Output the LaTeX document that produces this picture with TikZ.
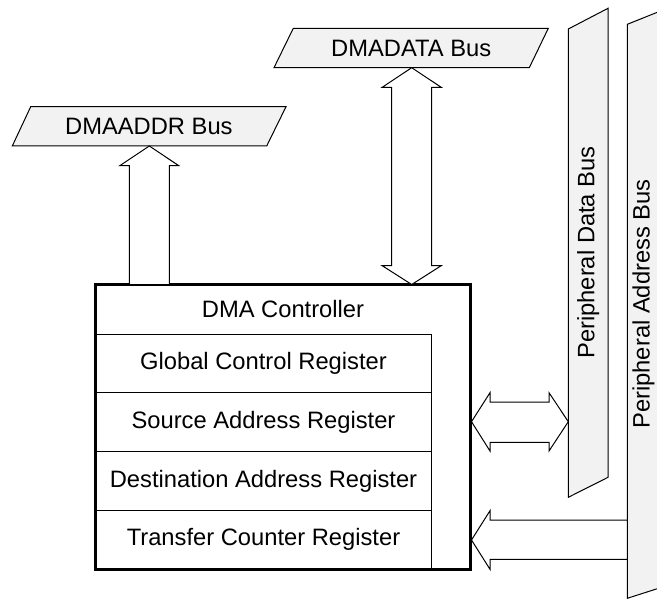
\documentclass[tikz,border=0pt]{standalone}
\usepackage{fontspec}
\setmainfont{Liberation Sans}
\usepackage{tikz}
\usepackage{xcolor}
\definecolor{busfill}{RGB}{242,242,242}

\tikzset{
  bus/.style={draw=black, fill=busfill, line width=0.75pt},
  blockarrow/.style={draw=black, fill=white, line width=0.75pt},
  reg/.style={draw=black, line width=0.75pt},
  lbl/.style={inner sep=0.75pt, font=\fontsize{17.8}{21}\selectfont}
}

\begin{document}
\begin{tikzpicture}[x=0.75pt,y=0.75pt,yscale=-1,xscale=1]
        \useasboundingbox (0,0) rectangle (657,599);
        \clip (0,0) rectangle (657,599);

        %Shape: Parallelogram [DMAADDR Bus]
        \draw[bus] (30.7,106.7) -- (286,106.7) -- (266.7,146) -- (12.3,146) -- cycle ;
        %Shape: Parallelogram [DMADATA Bus]
        \draw[bus] (293.3,28.3) -- (548.3,28.3) -- (529.3,67.7) -- (274,67.7) -- cycle ;
        %Shape: Peripheral Data Bus
        \draw[bus] (568.3,29) -- (608,8.3) -- (608,477.3) -- (568.3,497.3) -- cycle ;
        %Shape: Peripheral Address Bus
        \draw[bus] (627.3,24.3) -- (667,8.4) -- (667,585.6) -- (627.3,598.3) -- cycle ;

        %Shape: Registers
        \draw[reg] (95.5,334) -- (431.5,334) -- (431.5,569) ;
        \draw[reg] (95.5,392.7) -- (431.5,392.7) ;
        \draw[reg] (95.5,451.7) -- (431.5,451.7) ;
        \draw[reg] (95.5,510.7) -- (431.5,510.7) ;
        %Shape: Rectangle [DMA Controller]
        \draw[line width=2.25pt] (95.5,284.5) -- (470.5,284.5) -- (470.5,569) -- (95.5,569) -- cycle ;

        % Arrow ends
        \coordinate (addrtip) at (149.3,146) ;
        \coordinate (datatop) at (411.7,67.7) ;
        \coordinate (databot) at (411.7,284.5) ;
        \coordinate (pdleft) at (471.5,421.7) ;
        \coordinate (pdright) at (568.3,421.7) ;
        \coordinate (paleft) at (471.5,540) ;

        %Up Arrow [to DMAADDR Bus]
        \draw[blockarrow] (addrtip) -- ++(29.5,19.7) -- ++(-9.5,0) -- ++(0,118.8) -- ++(-40,0) -- ++(0,-118.8) -- ++(-9.5,0) -- cycle ;
        %Up Down Arrow [DMADATA Bus]
        \draw[blockarrow] (datatop) -- ++(29.5,19.6) -- ++(-9.5,0) -- ++(0,178.4) -- ++(9.5,0) -- (databot) -- ++(-29.5,-18.8) -- ++(9.5,0) -- ++(0,-178.4) -- ++(-9.5,0) -- cycle ;
        %Left Right Arrow [Peripheral Data Bus]
        \draw[blockarrow] (pdleft) -- ++(18.5,-29) -- ++(0,9.4) -- ++(59,0) -- ++(0,-9.4) -- (pdright) -- ++(-19.3,29.3) -- ++(0,-8.7) -- ++(-59,0) -- ++(0,8.7) -- cycle ;
        %Left Arrow [Peripheral Address Bus]
        \draw[blockarrow] (paleft) -- ++(18.5,-29.3) -- ++(0,9.3) -- ++(137.3,0) -- ++(0,39.3) -- ++(-137.3,0) -- ++(0,10) -- cycle ;

        % Text Node
        \draw (148.9,126.3) node [lbl] (addrbus) {DMAADDR Bus};
        % Text Node
        \draw (411.2,48) node [lbl] (databus) {DMADATA Bus};
        % Text Node
        \draw (588.2,252.5) node [lbl, rotate=90] (pdatabus) {Peripheral Data Bus};
        % Text Node
        \draw (643.5,304) node [lbl, rotate=90] (paddrbus) {Peripheral Address Bus};
        % Text Node
        \draw (283,309) node [lbl] (ctrl) {DMA Controller};
        % Text Node
        \draw (263.5,363.3) node [lbl] (gcr) {Global Control Register};
        % Text Node
        \draw (263.5,422.2) node [lbl] (sar) {Source Address Register};
        % Text Node
        \draw (263.5,481.2) node [lbl] (dar) {Destination Address Register};
        % Text Node
        \draw (263.5,539.8) node [lbl] (tcr) {Transfer Counter Register};

\end{tikzpicture}
\end{document}
